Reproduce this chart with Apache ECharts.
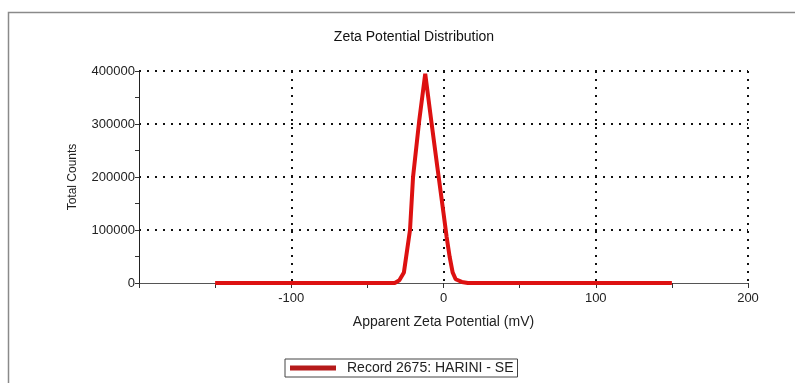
<!DOCTYPE html>
<html><head><meta charset="utf-8">
<script src="https://cdn.jsdelivr.net/npm/echarts@6/dist/echarts.min.js"></script>
<style>html,body{margin:0;padding:0;background:#fff}#c{width:795px;height:383px}</style>
</head><body><div id="c"></div>
<script>
var potentials = [-150, -32, -29, -26, -22, -20, -16, -12, -8, -4, 0, 2, 4, 6, 8, 12, 16, 150];
var counts     = [0, 0, 5000, 20000, 100000, 200000, 305000, 395000, 305000, 218000, 132000, 88000, 50000, 20000, 7000, 2000, 0, 0];
var xTicks = [-200, -100, 0, 100, 200];
var yTicks = [0, 100000, 200000, 300000, 400000];
var seriesName = 'Record 2675: HARINI - SE';

var chart = echarts.init(document.getElementById('c'), null, {renderer: 'canvas'});
var data = potentials.map(function (p, i) { return [p, counts[i]]; });
var font = 'Liberation Sans, Arial, sans-serif';
var grid = {color: '#111', type: [2, 6], width: 2};
chart.setOption({
  animation: false,
  backgroundColor: '#fff',
  title: {text: 'Zeta Potential Distribution', left: 409, top: 25, textAlign: 'center',
    textStyle: {fontFamily: font, fontSize: 14, fontWeight: 'normal', color: '#111'}},
  graphic: [{type: 'rect', shape: {x: 8.5, y: 12.5, width: 820, height: 420},
    style: {fill: 'none', stroke: '#8a8a8a', lineWidth: 1.5}, silent: true}],
  legend: {left: 285, top: 359, itemWidth: 46, itemHeight: 5, itemGap: 10,
    data: [{name: seriesName, icon: 'rect', itemStyle: {color: '#b51a1a'}}],
    borderColor: '#444', borderWidth: 1, padding: [2, 4, 2, 5],
    textStyle: {fontFamily: font, fontSize: 14, color: '#222', padding: [0, 0, 0, 6]}},
  grid: {left: 139, right: 47, top: 71, bottom: 100},
  xAxis: {type: 'value', min: xTicks[0], max: xTicks[xTicks.length - 1], interval: 100,
    name: 'Apparent Zeta Potential (mV)', nameLocation: 'middle', nameGap: 32,
    nameTextStyle: {fontFamily: font, fontSize: 14, color: '#222'},
    axisLine: {onZero: false, lineStyle: {color: '#555', width: 1}},
    axisTick: {show: true, length: 5, lineStyle: {color: '#333'}},
    minorTick: {show: true, splitNumber: 2, length: 5, lineStyle: {color: '#333'}},
    axisLabel: {showMinLabel: false, fontFamily: font, fontSize: 13, color: '#222', margin: 9},
    splitLine: {show: true, showMinLine: false, lineStyle: grid}},
  yAxis: {type: 'value', min: yTicks[0], max: yTicks[yTicks.length - 1], interval: 100000,
    name: 'Total Counts', nameLocation: 'middle', nameGap: 60, nameRotate: 90,
    nameTextStyle: {fontFamily: font, fontSize: 12, color: '#222'},
    axisLine: {show: true, onZero: false, lineStyle: {color: '#222', width: 1}},
    axisTick: {show: true, length: 4, lineStyle: {color: '#333'}},
    minorTick: {show: true, splitNumber: 2, length: 4, lineStyle: {color: '#333'}},
    axisLabel: {fontFamily: font, fontSize: 13, color: '#222', margin: 4,
      formatter: function (v) { return String(v); }},
    splitLine: {show: true, showMinLine: false, lineStyle: grid}},
  series: [{name: seriesName, type: 'line', data: data, symbol: 'none',
    lineStyle: {color: '#dd1111', width: 4}, itemStyle: {color: '#b51a1a'}}]
});
</script></body></html>
